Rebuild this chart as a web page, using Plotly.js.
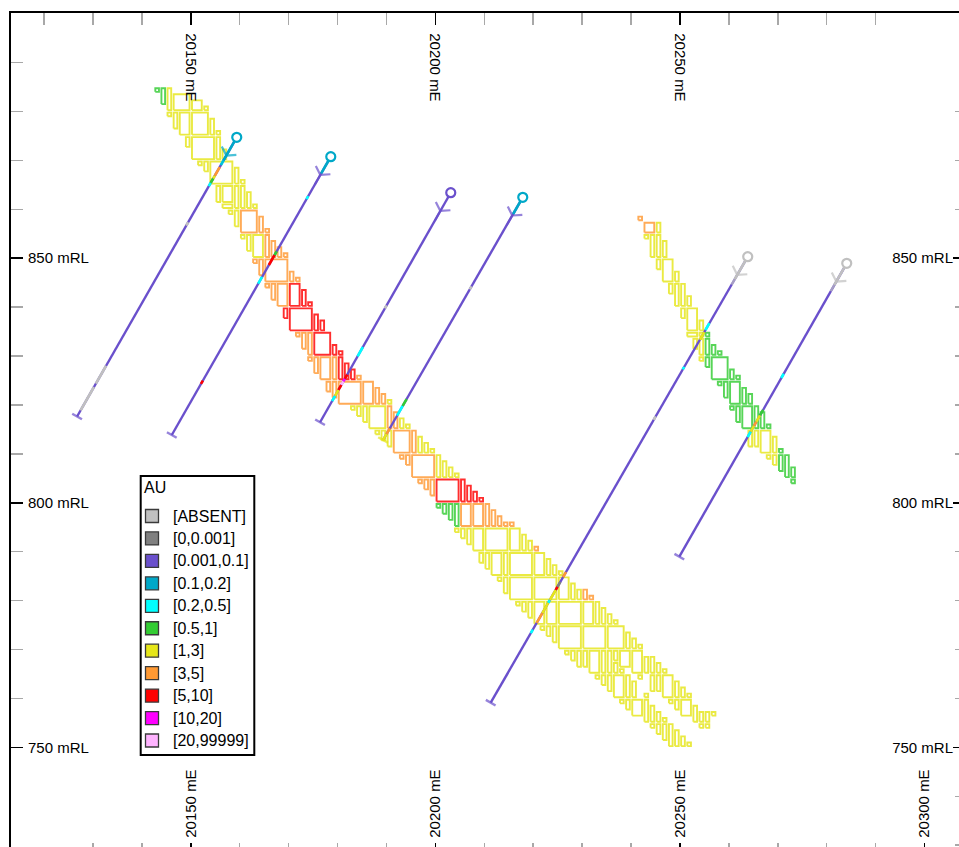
<!DOCTYPE html>
<html><head><meta charset="utf-8">
<script src="https://cdn.plot.ly/plotly-3.0.1.min.js"></script>
<style>html,body{margin:0;padding:0;background:#fff;overflow:hidden}#chart{width:959px;height:847px}</style>
</head><body><div id="chart"></div><script>
// ---- grade classes (AU) ----
const classLabels = ['[ABSENT]','[0,0.001]','[0.001,0.1]','[0.1,0.2]','[0.2,0.5]','[0.5,1]','[1,3]','[3,5]','[5,10]','[10,20]','[20,99999]'];
const classColors = ['#c0c0c0','#808080','#6a50cc','#00a8c8','#00ffff','#33cc33','#e6e619','#ff9933','#ff0000','#ff00ff','#ffb3ff'];

// ---- axis ticks ----
const xMajorStep = 50, xMinorStep = 10;
const yMajorStep = 50, yMinorStep = 10;

// ---- block model cells: [x0 (mE), y0 (mRL), width, height, class] ----
const mainLode = [
[20142.5,883.75,1.25,1.25,5],[20143.75,881.25,1.25,3.75,5],[20145,880,1.25,5,6],[20146.25,880,3.75,3.75,6],[20150,880,2.5,2.5,6],[20152.5,880,1.25,1.25,6],
[20145,878.75,1.25,1.25,6],[20146.25,876.25,1.25,3.75,6],[20147.5,875,2.5,5,6],[20150,875,3.75,5,6],[20153.75,875,1.25,3.75,6],[20155,875,1.25,1.25,6],
[20148.75,872.5,1.25,2.5,6],[20150,870,5,5,6],[20155,870,1.25,5,6],[20156.25,870,1.25,2.5,6],
[20151.25,868.75,1.25,1.25,6],[20152.5,867.5,1.25,2.5,6],[20153.75,865,5,5,6],[20158.75,865,1.25,3.75,6],[20160,865,1.25,1.25,6],
[20155,861.25,1.25,3.75,6],[20156.25,861.25,2.5,3.75,6],[20156.25,860,2.5,1.25,6],[20158.75,860,1.25,5,6],[20160,860,1.25,5,6],[20161.25,860,1.25,3.75,6],[20162.5,860,1.25,1.25,6],
[20157.5,858.75,1.25,1.25,6],[20158.75,856.25,1.25,3.75,6],[20160,855,3.75,5,7],[20163.75,855,1.25,3.75,7],[20165,855,1.25,1.25,7],
[20160,853.75,1.25,1.25,6],[20161.25,851.25,1.25,3.75,6],[20162.5,850,2.5,5,6],[20165,850,1.25,5,7],[20166.25,850,1.25,3.75,7],[20167.5,850,1.25,2.5,7],[20168.75,850,1.25,1.25,7],
[20162.5,848.75,1.25,1.25,7],[20163.75,846.25,1.25,3.75,7],[20165,845,5,5,7],[20170,845,1.25,2.5,7],[20171.25,845,1.25,1.25,7],
[20165,843.75,1.25,1.25,7],[20166.25,841.25,1.25,3.75,7],[20167.5,840,2.5,5,7],[20170,840,2.5,5,8],[20172.5,840,1.25,3.75,8],[20173.75,840,1.25,1.25,8],
[20168.75,837.5,1.25,2.5,8],[20170,835,5,5,8],[20175,835,1.25,3.75,8],[20176.25,835,1.25,2.5,8],
[20171.25,833.75,1.25,1.25,7],[20172.5,831.25,1.25,3.75,7],[20173.75,830,1.25,5,7],[20175,830,3.75,5,8],[20178.75,830,1.25,2.5,8],[20180,830,1.25,1.25,8],
[20173.75,828.75,1.25,1.25,7],[20175,826.25,1.25,3.75,7],[20176.25,825,2.5,5,7],[20178.75,825,1.25,5,7],[20180,825,1.25,5,8],[20181.25,825,1.25,3.75,8],[20182.5,825,1.25,2.5,8],[20183.75,825,1.25,1.25,7],
[20177.5,822.5,1.25,2.5,7],[20178.75,821.25,1.25,3.75,7],[20180,820,5,5,7],[20185,820,2.5,5,7],[20187.5,820,1.25,3.75,7],[20188.75,820,1.25,2.5,7],[20190,820,1.25,1.25,6],
[20182.5,818.75,1.25,1.25,6],[20183.75,817.5,1.25,2.5,6],[20185,816.25,1.25,3.75,6],[20186.25,815,3.75,5,6],[20190,815,1.25,5,7],[20191.25,815,1.25,3.75,7],[20192.5,815,1.25,2.5,6],[20193.75,815,1.25,1.25,6],
[20187.5,813.75,1.25,1.25,6],[20188.75,812.5,1.25,2.5,6],[20190,811.25,1.25,3.75,6],[20191.25,810,3.75,5,7],[20195,810,1.25,5,7],[20196.25,810,1.25,3.75,6],[20197.5,810,1.25,2.5,6],[20198.75,810,1.25,1.25,6],
[20192.5,808.75,1.25,1.25,7],[20193.75,807.5,1.25,2.5,7],[20195,805,5,5,7],[20200,805,1.25,5,6],[20201.25,805,1.25,3.75,6],[20202.5,805,1.25,2.5,6],[20203.75,805,1.25,1.25,6],
[20196.25,803.75,1.25,1.25,7],[20197.5,802.5,1.25,2.5,7],[20198.75,801.25,1.25,3.75,7],[20200,800,5,5,8],[20205,800,1.25,5,8],[20206.25,800,1.25,3.75,8],[20207.5,800,1.25,2.5,8],[20208.75,800,1.25,1.25,8],
[20200,798.75,1.25,1.25,5],[20201.25,797.5,1.25,2.5,5],[20202.5,796.25,1.25,3.75,5],[20203.75,795,1.25,5,5],[20205,795,2.5,5,7],[20207.5,795,2.5,5,7],[20210,795,1.25,5,7],[20211.25,795,1.25,3.75,7],[20212.5,795,1.25,2.5,7],[20213.75,795,1.25,1.25,7],[20215,795,1.25,1.25,7],
[20203.75,793.75,1.25,1.25,6],[20205,792.5,1.25,2.5,6],[20206.25,791.25,1.25,3.75,6],[20207.5,790,2.5,5,6],[20210,790,5,5,6],[20215,790,2.5,5,6],[20217.5,790,1.25,3.75,6],[20218.75,790,1.25,2.5,6],[20220,790,1.25,1.25,7],
[20208.75,787.5,1.25,2.5,6],[20210,786.25,1.25,3.75,6],[20211.25,785,2.5,5,6],[20213.75,785,1.25,5,6],[20215,785,5,5,6],[20220,785,2.5,5,6],[20222.5,785,1.25,3.75,6],[20223.75,785,1.25,2.5,6],[20225,785,1.25,1.25,6],
[20212.5,783.75,1.25,1.25,6],[20213.75,781.25,1.25,3.75,6],[20215,780,5,5,6],[20220,780,5,5,6],[20225,780,2.5,5,6],[20227.5,780,1.25,3.75,6],[20228.75,780,1.25,2.5,6],[20230,780,1.25,2.5,7],[20231.25,780,1.25,1.25,7],
[20216.25,778.75,1.25,1.25,6],[20217.5,777.5,1.25,2.5,6],[20218.75,776.25,1.25,3.75,6],[20220,775,2.5,5,6],[20222.5,775,2.5,5,6],[20225,775,5,5,6],[20230,775,2.5,5,6],[20232.5,775,1.25,5,6],[20233.75,775,1.25,3.75,6],[20235,775,1.25,2.5,6],[20236.25,775,1.25,1.25,6],
[20221.25,773.75,1.25,1.25,6],[20222.5,772.5,1.25,2.5,6],[20223.75,771.25,1.25,3.75,6],[20225,770,5,5,6],[20230,770,5,5,6],[20235,770,3.75,5,6],[20238.75,770,1.25,3.75,6],[20240,770,1.25,2.5,6],[20241.25,770,1.25,1.25,6],
[20226.25,768.75,1.25,1.25,6],[20227.5,767.5,1.25,2.5,6],[20228.75,766.25,1.25,3.75,6],[20230,766.25,1.25,3.75,6],[20231.25,765,2.5,5,6],[20233.75,765,1.25,5,6],[20235,765,1.25,5,6],[20236.25,767.5,1.25,2.5,6],[20236.25,765,1.25,2.5,6],[20237.5,766.25,2.5,3.75,6],[20237.5,765,1.25,1.25,6],[20240,765,2.5,5,6],[20242.5,765,1.25,3.75,6],[20243.75,765,1.25,3.75,6],[20245,765,1.25,2.5,6],[20246.25,765,1.25,1.25,6],
[20232.5,763.75,1.25,1.25,6],[20233.75,762.5,1.25,2.5,6],[20235,761.25,1.25,3.75,6],[20236.25,760,2.5,5,6],[20238.75,760,1.25,5,6],[20240,760,1.25,3.75,6],[20241.25,763.75,1.25,1.25,6],[20242.5,760,1.25,1.25,6],[20243.75,761.25,1.25,3.75,6],[20245,761.25,1.25,3.75,6],[20246.25,760,2.5,5,6],[20248.75,760,1.25,3.75,6],[20250,760,1.25,2.5,6],[20251.25,760,1.25,1.25,6],
[20237.5,758.75,1.25,1.25,6],[20238.75,757.5,1.25,2.5,6],[20240,756.25,2.5,3.75,6],[20242.5,755,1.25,5,6],[20243.75,755,1.25,3.75,6],[20245,755,1.25,2.5,6],[20246.25,755,1.25,1.25,6],[20247.5,758.75,1.25,1.25,6],[20248.75,757.5,1.25,2.5,6],[20250,756.25,2.5,3.75,6],[20252.5,755,1.25,3.75,6],[20253.75,755,1.25,2.5,6],[20255,755,1.25,2.5,6],[20256.25,756.25,1.25,1.25,6],[20253.75,753.75,1.25,1.25,6],[20255,753.75,1.25,1.25,6],
[20243.75,753.75,1.25,1.25,6],[20245,752.5,1.25,2.5,6],[20246.25,751.25,1.25,3.75,6],[20247.5,750,1.25,5,6],[20248.75,750,1.25,3.75,6],[20250,750,1.25,2.5,6],[20251.25,750,1.25,1.25,6]
];
const eastLode = [
[20241.25,857.5,1.25,1.25,7],[20242.5,855,2.5,2.5,7],[20245,855,1.25,2.5,6],
[20242.5,853.75,1.25,1.25,6],[20243.75,850,1.25,5,6],[20245,850,1.25,5,6],[20246.25,850,1.25,3.75,6],
[20245,847.5,1.25,2.5,6],[20246.25,845,2.5,5,6],[20248.75,845,1.25,2.5,6],
[20247.5,842.5,1.25,2.5,6],[20248.75,840,1.25,5,6],[20250,840,1.25,5,6],[20251.25,840,1.25,2.5,6],
[20250,837.5,1.25,2.5,6],[20251.25,835,2.5,5,6],[20253.75,835,1.25,2.5,6],
[20251.25,833.75,2.5,1.25,6],[20253.75,833.75,1.25,1.25,6],[20255,833.75,1.25,1.25,5],[20252.5,831.25,1.25,2.5,6],[20253.75,830,1.25,3.75,6],[20255,830,1.25,3.75,5],[20256.25,830,1.25,2.5,5],[20257.5,830,1.25,1.25,5],
[20253.75,828.75,1.25,1.25,6],[20255,827.5,1.25,2.5,5],[20256.25,825,3.75,5,5],[20260,825,1.25,2.5,5],[20261.25,825,1.25,1.25,5],
[20257.5,823.75,1.25,1.25,5],[20258.75,821.25,1.25,3.75,5],[20260,820,2.5,5,5],[20262.5,820,1.25,3.75,5],[20263.75,820,1.25,2.5,5],
[20260,818.75,1.25,1.25,5],[20261.25,816.25,1.25,3.75,5],[20262.5,815,2.5,5,5],[20265,815,1.25,5,5],[20266.25,815,1.25,3.75,5],[20267.5,815,1.25,1.25,5],
[20263.75,811.25,1.25,3.75,6],[20265,811.25,1.25,3.75,6],[20266.25,810,2.5,5,6],[20268.75,810,1.25,3.75,6],[20270,810,1.25,1.25,5],
[20267.5,808.75,1.25,1.25,6],[20268.75,807.5,1.25,2.5,6],[20270,806.25,1.25,3.75,5],[20271.25,805,1.25,5,5],[20272.5,805,1.25,2.5,5],
[20272.5,803.75,1.25,1.25,5]
];

// ---- drillholes: collar / end (mE, mRL) and assay intervals [from m, to m, class] ----
const holeCollarX = [20159.40, 20178.62, 20203.15, 20217.87, 20263.86, 20284.10];
const holeCollarY = [874.71, 870.75, 863.39, 862.45, 850.31, 848.96];
const holeEndX    = [20126.76, 20146.12, 20176.43, 20189.31, 20211.32, 20249.88];
const holeEndY    = [817.64, 813.86, 816.46, 812.84, 759.14, 788.98];
const holeBaseClass = 2;
const holeIntervals = [
  [[0,5.5,3],[5.5,6.5,4],[7,9,7],[9,9.7,6],[9.7,10.7,5],[10.7,11.5,4],[20,20.8,0],[53.8,58,0],[58.8,64.3,0]],
  [[0,4,3],[9.3,10,4],[22.3,23.2,5],[23.2,25.5,8],[28.3,29.9,4],[52.7,53.5,8]],
  [[26.5,27.2,0],[36.3,38.5,4],[42.8,43.8,8],[43.8,44.4,9],[44.4,45.2,10],[45.2,46.4,8],[46.4,47.8,6],[47.8,49,4]],
  [[0,4,3],[21,21.7,0],[47.6,49.2,5],[49.2,51.5,4],[54.5,55.8,7],[55.8,57.3,6]],
  [[0,5.3,0],[15.7,17.3,4],[17.8,19.6,6],[26,26.6,4],[37.7,38.5,0],[74.4,75.6,7],[76.7,77.9,1],[77.9,78.6,8],[78.6,81,6],[81,81.7,4],[81.7,84.1,6],[84.1,86.4,7],[88,88.8,4]],
  [[0,5.1,0],[26,27,4],[34.5,35.8,5],[35.8,37.3,6],[37.3,38.2,7],[38.2,39.6,6],[39.6,40.9,4]]
];
const arrowDepth = 4.3;

// ---- build traces ----
const traces = [];
const inset = 0.25;
const allBlocks = mainLode.concat(eastLode);
for (let c = 0; c < classColors.length; c++) {
  const xs = [], ys = [];
  allBlocks.forEach(b => {
    if (b[4] !== c) return;
    const x0 = b[0] + inset, x1 = b[0] + b[2] - inset, y0 = b[1] + inset, y1 = b[1] + b[3] - inset;
    xs.push(x0, x1, x1, x0, x0, null); ys.push(y0, y0, y1, y1, y0, null);
  });
  if (xs.length) traces.push({type:'scatter', mode:'lines', x:xs, y:ys, line:{color:classColors[c], width:1.9},
    opacity:0.82, hoverinfo:'skip', showlegend:false});
}

function holePoint(h, d) {
  const dx = holeEndX[h] - holeCollarX[h], dy = holeEndY[h] - holeCollarY[h];
  const L = Math.hypot(dx, dy);
  return [holeCollarX[h] + dx * d / L, holeCollarY[h] + dy * d / L];
}
function holeLen(h) { return Math.hypot(holeEndX[h] - holeCollarX[h], holeEndY[h] - holeCollarY[h]); }
function classAt(h, d) {
  let c = holeBaseClass;
  holeIntervals[h].forEach(iv => { if (d >= iv[0] && d <= iv[1]) c = iv[2]; });
  return c;
}
// base hole traces (start just outside the collar circle)
const bx = [], by = [];
for (let h = 0; h < holeCollarX.length; h++) {
  const s = holePoint(h, 0.9);
  bx.push(s[0], holeEndX[h], null); by.push(s[1], holeEndY[h], null);
}
traces.push({type:'scatter', mode:'lines', x:bx, y:by, line:{color:classColors[holeBaseClass], width:2.4}, hoverinfo:'skip', showlegend:false});
// intervals
for (let c = 0; c < classColors.length; c++) {
  const xs = [], ys = [];
  for (let h = 0; h < holeCollarX.length; h++) {
    holeIntervals[h].forEach(iv => {
      if (iv[2] !== c) return;
      const a = holePoint(h, Math.max(iv[0], 0.9)), b = holePoint(h, iv[1]);
      xs.push(a[0], b[0], null); ys.push(a[1], b[1], null);
    });
  }
  if (xs.length) traces.push({type:'scatter', mode:'lines', x:xs, y:ys, line:{color:classColors[c], width:2.6}, hoverinfo:'skip', showlegend:false});
}
// collar circles
traces.push({type:'scatter', mode:'markers', x:holeCollarX, y:holeCollarY,
  marker:{symbol:'circle-open', size:9, color:holeCollarX.map((_, h) => classColors[classAt(h, 0)]),
    line:{width:2.2}}, hoverinfo:'skip', showlegend:false});
// direction arrow and end tick
for (let h = 0; h < holeCollarX.length; h++) {
  const L = holeLen(h);
  const p = holePoint(h, arrowDepth);
  const q = holePoint(h, L - 1);
  const cols = [classColors[classAt(h, arrowDepth)], classColors[classAt(h, L - 0.01)]];
  traces.push({type:'scatter', mode:'markers', x:[holeCollarX[h], p[0]], y:[holeCollarY[h], p[1]],
    marker:{symbol:['circle-open','y-up'], size:[0,14], color:['rgba(0,0,0,0)', cols[0]], angleref:'previous',
      line:{color:['rgba(0,0,0,0)', cols[0]], width:2.2}}, hoverinfo:'skip', showlegend:false});
  traces.push({type:'scatter', mode:'markers', x:[q[0], holeEndX[h]], y:[q[1], holeEndY[h]],
    marker:{symbol:['circle-open','line-ew'], size:[0,8], color:['rgba(0,0,0,0)', cols[1]], angleref:'previous',
      line:{color:['rgba(0,0,0,0)', cols[1]], width:2.4}}, hoverinfo:'skip', showlegend:false});
}
// dummy for secondary axes
traces.push({type:'scatter', mode:'markers', x:[20200], y:[800], xaxis:'x2', yaxis:'y2', marker:{opacity:0}, hoverinfo:'skip', showlegend:false});

// ---- layout ----
const W = 959, H = 847, ML = 11, MT = 13;
const xRange = [20113.25, 20307.05], yRange = [729.64, 900.12];
const font = {family:'"Liberation Sans", Arial, sans-serif', size:15, color:'#000'};
function xAxis(extra) {
  return Object.assign({range:xRange, tickmode:'linear', tick0:20000, dtick:xMajorStep, tickformat:'d', ticksuffix:' mE',
    ticks:'inside', tickcolor:'#000', tickwidth:1.5, ticklabelposition:'inside', showgrid:false, zeroline:false,
    tickfont:font, fixedrange:true}, extra);
}
function yAxis(extra) {
  return Object.assign({range:yRange, tickmode:'linear', tick0:0, dtick:yMajorStep, tickformat:'d', ticksuffix:' mRL',
    ticks:'inside', tickcolor:'#000', tickwidth:1.5, ticklabelposition:'inside', showgrid:false, zeroline:false,
    tickfont:font, fixedrange:true}, extra);
}
const pw = W - ML, ph = H - MT;
const PX = px => (px - ML) / pw, PY = py => 1 - (py - MT) / ph;

const shapes = [], annotations = [];
// legend box
shapes.push({type:'rect', xref:'paper', yref:'paper', x0:PX(140.7), x1:PX(254.3), y0:PY(755), y1:PY(476),
  line:{color:'#000', width:2}, fillcolor:'#fff', layer:'above'});
annotations.push({xref:'paper', yref:'paper', x:PX(141.5), y:PY(487), xanchor:'left', yanchor:'middle', text:'AU',
  showarrow:false, font:{family:font.family, size:16, color:'#000'}});
classLabels.forEach((lab, i) => {
  const yc = 516 + 22.45 * i;
  shapes.push({type:'rect', xref:'paper', yref:'paper', x0:PX(145.5), x1:PX(158.5), y0:PY(yc + 6.5), y1:PY(yc - 6.5),
    line:{color:'#3a3a3a', width:1.3}, fillcolor:classColors[i], layer:'above'});
  annotations.push({xref:'paper', yref:'paper', x:PX(170.5), y:PY(yc), xanchor:'left', yanchor:'middle', text:lab,
    showarrow:false, font:{family:font.family, size:16, color:'#000'}});
});

const minorStyle = (len, d) => ({dtick:d, ticks:'inside', ticklen:len, tickcolor:'#a8a8a8', tickwidth:1.5, showgrid:false});
const layout = {
  width:W, height:H, margin:{l:ML, r:0, t:MT, b:0, pad:0},
  paper_bgcolor:'#fff', plot_bgcolor:'#fff', showlegend:false, font:font,
  xaxis: xAxis({side:'bottom', ticklen:4, tickangle:-90, showline:false, minor:minorStyle(4, xMinorStep)}),
  xaxis2: xAxis({side:'top', overlaying:'x', anchor:'y', ticklen:12, tickangle:90, showline:true, linecolor:'#000', linewidth:2,
    minor:minorStyle(12, xMinorStep)}),
  yaxis: yAxis({side:'left', ticklen:12, ticklabelstandoff:5, showline:true, linecolor:'#000', linewidth:2,
    minor:minorStyle(12, yMinorStep)}),
  yaxis2: yAxis({side:'right', overlaying:'y', anchor:'x', ticklen:6, showline:false, minor:minorStyle(4, yMinorStep)}),
  shapes:shapes, annotations:annotations
};
Plotly.newPlot('chart', traces, layout, {displayModeBar:false, staticPlot:true});
</script></body></html>
